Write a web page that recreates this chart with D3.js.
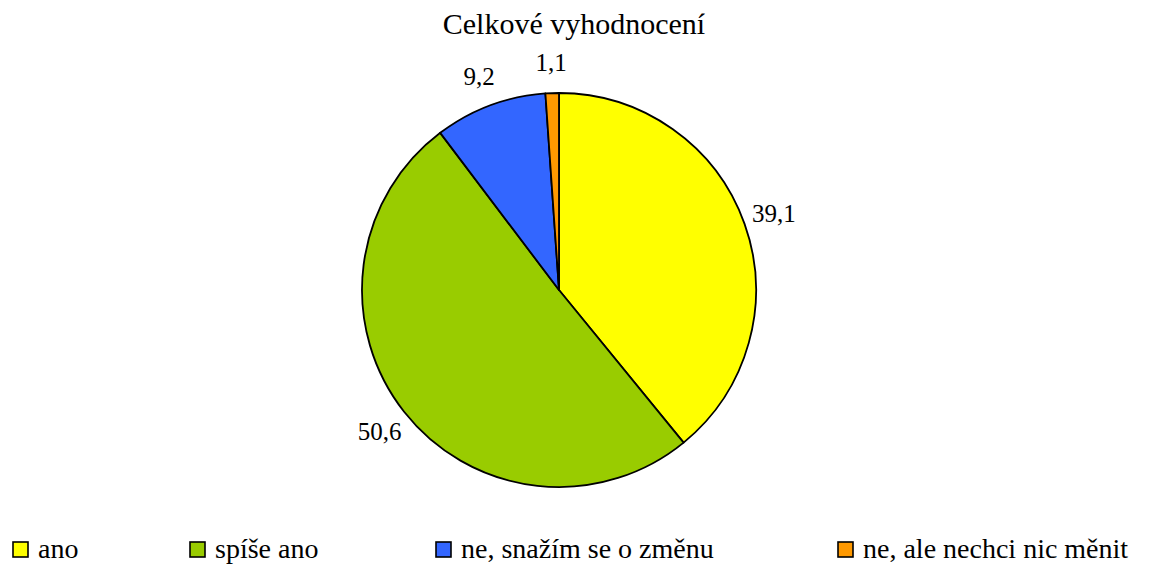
<!DOCTYPE html>
<html>
<head>
<meta charset="utf-8">
<script src="https://cdn.jsdelivr.net/npm/d3@7"></script>
<style>
  body { margin: 0; background: #fff; }
</style>
</head>
<body>
<div id="chart"></div>
<script>
// data
const categories = ["ano", "spíše ano", "ne, snažím se o změnu", "ne, ale nechci nic měnit"];
const values = [39.1, 50.6, 9.2, 1.1];
const colors = ["#FFFF00", "#99CC00", "#3366FF", "#FF9900"];
const title = "Celkové vyhodnocení";

const width = 1149, height = 569;
const cx = 559, cy = 290, radius = 197;
const font = "Liberation Serif";

const svg = d3.select("#chart").append("svg")
  .attr("width", width)
  .attr("height", height)
  .attr("font-family", font);

svg.append("text")
  .attr("x", 574)
  .attr("y", 34)
  .attr("text-anchor", "middle")
  .style("font-size", "30px")
  .text(title);

const pie = d3.pie().sort(null).value(d => d);
const arcs = pie(values);

const arc = d3.arc().innerRadius(0).outerRadius(radius);
const labelArc = d3.arc().innerRadius(228).outerRadius(228);

const g = svg.append("g").attr("transform", `translate(${cx},${cy})`);

g.selectAll("path")
  .data(arcs)
  .join("path")
  .attr("d", arc)
  .attr("fill", (d, i) => colors[i])
  .attr("stroke", "#000")
  .attr("stroke-width", 1.8)
  .attr("stroke-linejoin", "round");

g.selectAll("text.lbl")
  .data(arcs)
  .join("text")
  .attr("class", "lbl")
  .attr("transform", d => `translate(${labelArc.centroid(d)})`)
  .attr("text-anchor", "middle")
  .attr("dy", "0.35em")
  .style("font-size", "25px")
  .text(d => d3.format(".1f")(d.data).replace(".", ","));

// legend
const legendX = [13, 190, 436, 838];
const legend = svg.append("g").attr("transform", "translate(0,542)");

const item = legend.selectAll("g")
  .data(categories)
  .join("g")
  .attr("transform", (d, i) => `translate(${legendX[i]},0)`);

item.append("rect")
  .attr("width", 15)
  .attr("height", 15)
  .attr("fill", (d, i) => colors[i])
  .attr("stroke", "#000")
  .attr("stroke-width", 1.6);

item.append("text")
  .attr("x", 25)
  .attr("y", 16)
  .style("font-size", "28px")
  .text(d => d);
</script>
</body>
</html>
